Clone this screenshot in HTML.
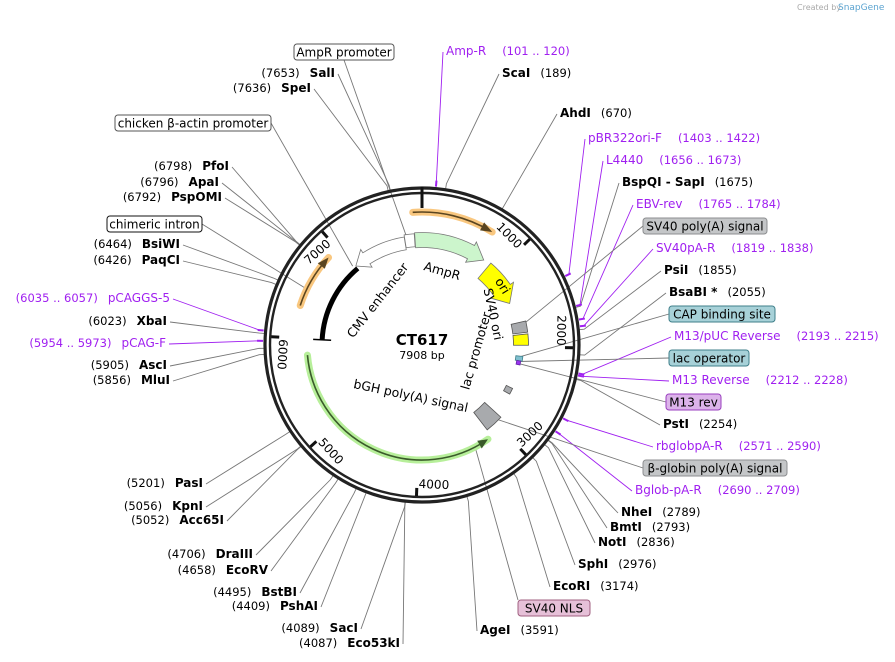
<!DOCTYPE html>
<html><head><meta charset="utf-8">
<style>
html,body{margin:0;padding:0;background:#fff;}
svg{display:block;font-family:"DejaVu Sans","Liberation Sans",sans-serif;}
</style></head>
<body>
<svg id="map" width="895" height="662" viewBox="0 0 895 662" xmlns="http://www.w3.org/2000/svg">
<text x="797" y="10" font-size="8" fill="#aaa">Created by</text>
<text x="838" y="10" font-size="9" fill="#5ba3d0">SnapGene</text>
<g id="lines"></g>
<g id="ring"></g>
<g id="features"></g>
<g id="labels"></g>
<text x="422" y="345" font-size="15" font-weight="bold" text-anchor="middle">CT617</text>
<text x="422" y="359" font-size="11" text-anchor="middle">7908 bp</text>
</svg>
<script>
const total = 7908;
const cx = 422, cy = 345;
// restriction enzymes
const enzNames = ["ScaI","AhdI","BspQI - SapI","PsiI","BsaBI *","PstI","NheI","BmtI","NotI","SphI","EcoRI","AgeI","SacI","Eco53kI","PshAI","BstBI","EcoRV","DraIII","Acc65I","KpnI","PasI","MluI","AscI","XbaI","PaqCI","BsiWI","PspOMI","ApaI","PfoI","SpeI","SalI"];
const enzPos = [189,670,1675,1855,2055,2254,2789,2793,2836,2976,3174,3591,4089,4087,4409,4495,4658,4706,5052,5056,5201,5856,5905,6023,6426,6464,6792,6796,6798,7636,7653];
const enzLayout = [[502,73,"R"],[560,113,"R"],[622,182,"R"],[664,270,"R"],[669,292,"R"],[663,424,"R"],[621,512,"R"],[610,527,"R"],[598,542,"R"],[578,564,"R"],[553,586,"R"],[480,630,"R"],[358,628,"L"],[400,643,"L"],[318,606,"L"],[297,592,"L"],[268,570,"L"],[253,554,"L"],[224,520,"L"],[203,506,"L"],[203,483,"L"],[170,380,"L"],[167,365,"L"],[167,321,"L"],[180,260,"L"],[180,244,"L"],[222,197,"L"],[219,182,"L"],[229,166,"L"],[311,88,"L"],[335,73,"L"]];
// primers
const primerNames = ["Amp-R","pBR322ori-F","L4440","EBV-rev","SV40pA-R","M13/pUC Reverse","M13 Reverse","rbglobpA-R","Bglob-pA-R","pCAG-F","pCAGGS-5"];
const primerStart = [101,1403,1656,1765,1819,2193,2212,2571,2690,5954,6035];
const primerEnd = [120,1422,1673,1784,1838,2215,2228,2590,2709,5973,6057];
const primerLayout = [[446,51,"R"],[588,138,"R"],[606,160,"R"],[636,204,"R"],[656,248,"R"],[674,336,"R"],[672,380,"R"],[656,446,"R"],[635,490,"R"],[166,343,"L"],[170,298,"L"]];
// labelled features (boxes)
const boxNames = ["AmpR promoter","chicken β-actin promoter","chimeric intron","SV40 poly(A) signal","CAP binding site","lac operator","M13 rev","β-globin poly(A) signal","SV40 NLS"];
const boxPos = [7740,7000,6500,1760,2130,2190,2215,3030,3350];
const boxRad = [105,105,128,98,98,98,98,95,115];
const boxFill = ["#fff","#fff","#fff","#c4c6c8","#a7d1d8","#a7d1d8","#dcb3ea","#c4c6c8","#e6c0d8"];
const boxStroke = ["#555","#555","#111","#8c8e90","#3f7f8a","#3f7f8a","#9a3fbf","#8c8e90","#a06080"];
const boxLayout = [[294,44,100],[115,115,156],[107,216,95],[643,218,124],[669,306,106],[669,350,80],[666,394,55],[643,460,144],[518,600,72]];
// ticks
const tickVals = [1000,2000,3000,4000,5000,6000,7000];

const NS = "http://www.w3.org/2000/svg";
const ang = p => p / total * 2 * Math.PI;
const pt = (r, p) => [cx + r * Math.sin(ang(p)), cy - r * Math.cos(ang(p))];
function mk(tag, attrs, parent) {
  const e = document.createElementNS(NS, tag);
  for (const k in attrs) e.setAttribute(k, attrs[k]);
  parent.appendChild(e);
  return e;
}
const gL = document.getElementById("lines"), gR = document.getElementById("ring"),
      gF = document.getElementById("features"), gT = document.getElementById("labels");

// ring
let c1 = mk("circle", {cx, cy, r: 157, fill: "none", stroke: "#222", "stroke-width": 3.2}, gR);


let c2 = mk("circle", {cx, cy, r: 152, fill: "none", stroke: "#222", "stroke-width": 2.4}, gR);


{
  const a = pt(158, 0), b = pt(137, 0);
  let t0 = mk("line", {x1: a[0], y1: a[1], x2: b[0], y2: b[1], stroke: "#111", "stroke-width": 3}, gR);
  
  
}
tickVals.forEach(v => {
  const a = pt(151, v), b = pt(143, v);
  let t = mk("line", {x1: a[0], y1: a[1], x2: b[0], y2: b[1], stroke: "#111", "stroke-width": 3}, gR);
  
  
  const th = v / total * 360;
  let rot = th <= 100 ? th : (th <= 280 ? th - 180 : th - 360);
  const lp = pt(140, v - 7 / 360 * total);
  let tx = mk("text", {x: lp[0], y: lp[1] + 4, "font-size": 12, "text-anchor": "middle", transform: `rotate(${rot} ${lp[0]} ${lp[1]})`}, gR);
  tx.textContent = v;
  
  
});

// arcs
function arc(r, s, e) {
  const a = pt(r, s), b = pt(r, e);
  let span = ((e - s) % total + total) % total;
  return `M${a[0]} ${a[1]} A${r} ${r} 0 ${span > total / 2 ? 1 : 0} 1 ${b[0]} ${b[1]}`;
}
function band(r, w, s, e, head, dir) {
  const ro = r + w / 2, ri = r - w / 2;
  let bs = s, be = e;
  if (dir === 1) be = e - head; else if (dir === -1) bs = s + head;
  const span = ((be - bs) % total + total) % total;
  const lg = span > total / 2 ? 1 : 0;
  const o1 = pt(ro, bs), o2 = pt(ro, be), i2 = pt(ri, be), i1 = pt(ri, bs);
  let d = `M${o1[0]} ${o1[1]} A${ro} ${ro} 0 ${lg} 1 ${o2[0]} ${o2[1]}`;
  if (dir === 1) {
    const h1 = pt(ro + 4, be), tip = pt(r, e), h2 = pt(ri - 4, be);
    d += ` L${h1[0]} ${h1[1]} L${tip[0]} ${tip[1]} L${h2[0]} ${h2[1]}`;
  }
  d += ` L${i2[0]} ${i2[1]} A${ri} ${ri} 0 ${lg} 0 ${i1[0]} ${i1[1]}`;
  if (dir === -1) {
    const h1 = pt(ri - 4, bs), tip = pt(r, s), h2 = pt(ro + 4, bs);
    d += ` L${h1[0]} ${h1[1]} L${tip[0]} ${tip[1]} L${h2[0]} ${h2[1]}`;
  }
  return d + " Z";
}
function lineArrow(name, r, s, e, halo, line, dir) {
  const g = mk("g", {}, gF);
  
  
  const hb = 110;
  mk("path", {d: arc(r, s, e), fill: "none", stroke: halo, "stroke-width": 7, "stroke-linecap": "round"}, g);
  const ls = dir === -1 ? s + 20 : s, le = dir === 1 ? e - 20 : e;
  mk("path", {d: arc(r, ls, le), fill: "none", stroke: line, "stroke-width": 1.6}, g);
  const tipP = dir === 1 ? e : s, baseP = dir === 1 ? e - hb : s + hb;
  const t = pt(r, tipP), b1 = pt(r + 4.5, baseP), b2 = pt(r - 4.5, baseP);
  mk("path", {d: `M${t[0]} ${t[1]} L${b1[0]} ${b1[1]} L${b2[0]} ${b2[1]} Z`, fill: line}, g);
}
lineArrow("top-orange-feature", 133, 7820, 700, "#f9c77f", "#5a4520", 1);
lineArrow("chimeric-intron-arrow", 128, 6326, 6878, "#f9c77f", "#5a4520", 1);
lineArrow("bgh-polya-arrow", 115, 3185, 5820, "#b7ef9a", "#3a5a2a", -1);

function shape(name, d, fill, stroke, sw) {
  let p = mk("path", {d, fill, stroke, "stroke-width": sw || 0.8}, gF);
  
  
  return p;
}
shape("ampr-arrow", band(105, 15, 7825, 791, 180, 1), "#ccf5cc", "#777");
shape("cmv-enhancer-arrow", band(103, 13, 7030, 7702, 160, -1), "#fff", "#777");
shape("ampr-promoter-feature", band(105, 13, 7705, 7820, 0, 0), "#fff", "#777");
shape("ori-arrow", band(97, 20, 880, 1420, 200, 1), "#ffff00", "#777");
shape("sv40-polya-box", band(99, 15, 1690, 1825, 0, 0), "#a8aaad", "#555");
shape("sv40-ori-box", band(99, 15, 1845, 1980, 0, 0), "#ffff00", "#555");
shape("cap-site-box", band(98, 7, 2120, 2180, 0, 0), "#7fbfcf", "#3f7f8a");
shape("lac-operator-box", band(98, 4, 2180, 2230, 0, 0), "#9933ee", "#6622aa");
shape("lac-promoter-box", band(97, 7, 2540, 2620, 0, 0), "#a8aaad", "#555");
shape("bglobin-polya-box", band(96, 22, 2910, 3130, 0, 0), "#a8aaad", "#555");
{
  let p = mk("path", {d: arc(100, 5996, 7030), fill: "none", stroke: "#000", "stroke-width": 5}, gF);
  
  
  const a = pt(109, 5996), b = pt(91, 5996);
  let cap = mk("line", {x1: a[0], y1: a[1], x2: b[0], y2: b[1], stroke: "#000", "stroke-width": 1.5}, gF);
  
  
}
function innerText(name, str, x, y, rot) {
  let t = mk("text", {x, y, "font-size": 12.5, "text-anchor": "middle", transform: `rotate(${rot} ${x} ${y})`}, gF);
  t.textContent = str;
  
  
}
innerText("ampr-label", "AmpR", 441, 275, 16);
innerText("cmv-enhancer-label", "CMV enhancer", 381, 303, -52);
innerText("ori-label", "ori", 499, 288, 58);
innerText("sv40-ori-label", "SV40 ori", 489, 315, 78);
innerText("lac-promoter-label", "lac promoter", 480, 352, -74);
innerText("bgh-label", "bGH poly(A) signal", 410, 400, 12);

function leader(p, ax, ay, color, rr) {
  const o = pt(163, p), r0 = pt(rr || 158, p);
  mk("polyline", {points: `${ax},${ay} ${o[0]},${o[1]} ${r0[0]},${r0[1]}`, fill: "none", stroke: color, "stroke-width": 0.9}, gL);
}

// enzymes
enzNames.forEach((n, i) => {
  const [x, y, side] = enzLayout[i];
  const p = enzPos[i];
  const t = mk("text", {x, y: y + 4, "font-size": 12, "text-anchor": side === "L" ? "end" : "start"}, gT);
  
  
  if (side === "R") {
    t.innerHTML = `<tspan font-weight="bold">${n}</tspan><tspan font-size="11.5" dx="10">(${p})</tspan>`;
    leader(p, x - 3, y + 1, "#777");
  } else {
    t.innerHTML = `<tspan font-size="11.5">(${p})</tspan><tspan font-weight="bold" dx="10">${n}</tspan>`;
    leader(p, x + 3, y + 1, "#777");
  }
});

// primers
primerNames.forEach((n, i) => {
  const [x, y, side] = primerLayout[i];
  const mid = (primerStart[i] + primerEnd[i]) / 2;
  const t = mk("text", {x, y: y + 4, "font-size": 12, fill: "#a020f0", "text-anchor": side === "L" ? "end" : "start"}, gT);
  
  
  const range = `(${primerStart[i]} .. ${primerEnd[i]})`;
  if (side === "R") t.innerHTML = `<tspan>${n}</tspan><tspan font-size="11.5" dx="16">${range}</tspan>`;
  else t.innerHTML = `<tspan font-size="11.5">${range}</tspan><tspan dx="10">${n}</tspan>`;
  leader(mid, side === "R" ? x - 3 : x + 3, y + 1, "#a020f0", 160);
  const a = pt(159, mid), b = pt(165, mid);
  let m = mk("line", {x1: a[0], y1: a[1], x2: b[0], y2: b[1], stroke: "#a020f0", "stroke-width": 2}, gL);
  
  
});

// feature boxes
boxNames.forEach((n, i) => {
  const [x, y, w] = boxLayout[i];
  const g = mk("g", {}, gT);
  
  
  mk("rect", {x, y, width: w, height: 16, rx: 3, fill: boxFill[i], stroke: boxStroke[i], "stroke-width": 1}, g);
  const t = mk("text", {x: x + w / 2, y: y + 12.5, "font-size": 12, "text-anchor": "middle"}, g);
  t.textContent = n;
  const a = pt(boxRad[i], boxPos[i]);
  const right = x > cx;
  const ax = y < 70 ? x + w / 2 : (right ? x : x + w);
  const ay = y < 70 ? y + 16 : (y > 590 ? y : y + 8);
  mk("line", {x1: ax, y1: ay, x2: a[0], y2: a[1], stroke: "#777", "stroke-width": 0.9}, gL);
});
</script>
</body></html>
